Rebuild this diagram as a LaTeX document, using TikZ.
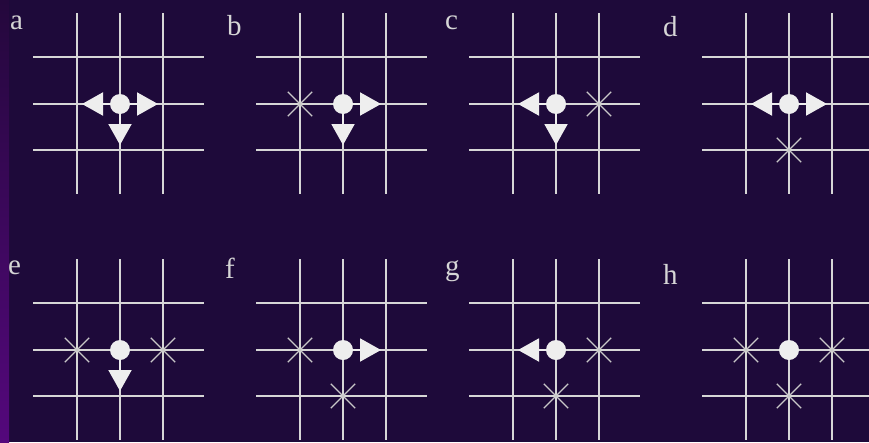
\documentclass[tikz,border=0pt]{standalone}
\usepackage{fontspec}
\setmainfont{Liberation Serif}
\usepackage{xcolor}
\definecolor{bgnavy}{RGB}{30,10,58}
\definecolor{striptop}{RGB}{36,8,60}
\definecolor{stripbottom}{RGB}{84,8,124}
\definecolor{gridgray}{RGB}{214,214,214}
\definecolor{dotwhite}{RGB}{238,238,238}
\definecolor{crossgray}{RGB}{200,200,200}
\usepackage{tikz}
\usetikzlibrary{shapes.misc, arrows.meta}
\tikzset{
  gridline/.style={draw=gridgray, line width=1.5pt},
  walker/.style={
    circle, fill=dotwhite, inner sep=0pt, minimum size=20pt
  },
  move/.style={
    draw=dotwhite, line width=2pt, shorten >=5pt,
    -{Triangle[length=21pt, width=23pt]}
  },
  blocked/.style={
    cross out, draw=crossgray, line width=1.3pt,
    inner sep=0pt, minimum size=23pt
  },
  panellabel/.style={
    anchor=north west, inner sep=0pt, text=gridgray,
    font=\fontsize{29}{34}\selectfont
  },
}

\begin{document}
\begin{tikzpicture}[x=1pt, y=-1pt]
  % background and left strip
  \fill[bgnavy] (0,0) rectangle (869,442);
  \shade[top color=striptop, bottom color=stripbottom] (0,0) rectangle (9,442);
  \useasboundingbox (0,0) rectangle (869,442);

  % panels: grid, walker, neighbour points, label
  \foreach \p/\cx/\cy/\lx/\ly in {a/120/104/10/16, b/343/104/227/15,
      c/556/104/445/16, d/789/104/663/16, e/120/350/8/261,
      f/343/350/225/258, g/556/350/445/260, h/789/350/663/264}{
    \foreach \dy in {-47,0,46}
      \draw[gridline] (\cx-87,\cy+\dy) -- (\cx+84,\cy+\dy);
    \foreach \dx in {-43,0,43}
      \draw[gridline] (\cx+\dx,\cy-91) -- (\cx+\dx,\cy+90);
    \node[walker] (\p-dot) at (\cx,\cy) {};
    \coordinate (\p-W) at (\cx-43,\cy);
    \coordinate (\p-E) at (\cx+43,\cy);
    \coordinate (\p-S) at (\cx,\cy+46);
    \node[panellabel] (\p-label) at (\lx,\ly) {\p};
  }

  % allowed moves
  \foreach \p/\d in {a/W, a/E, a/S, b/E, b/S, c/W, c/S,
      d/W, d/E, e/S, f/E, g/W}
    \draw[move] (\p-dot) -- (\p-\d);

  % blocked sites
  \foreach \p/\d in {b/W, c/E, d/S, e/W, e/E, f/W, f/S,
      g/E, g/S, h/W, h/E, h/S}
    \node[blocked] (\p-\d-x) at (\p-\d) {};
\end{tikzpicture}
\end{document}
